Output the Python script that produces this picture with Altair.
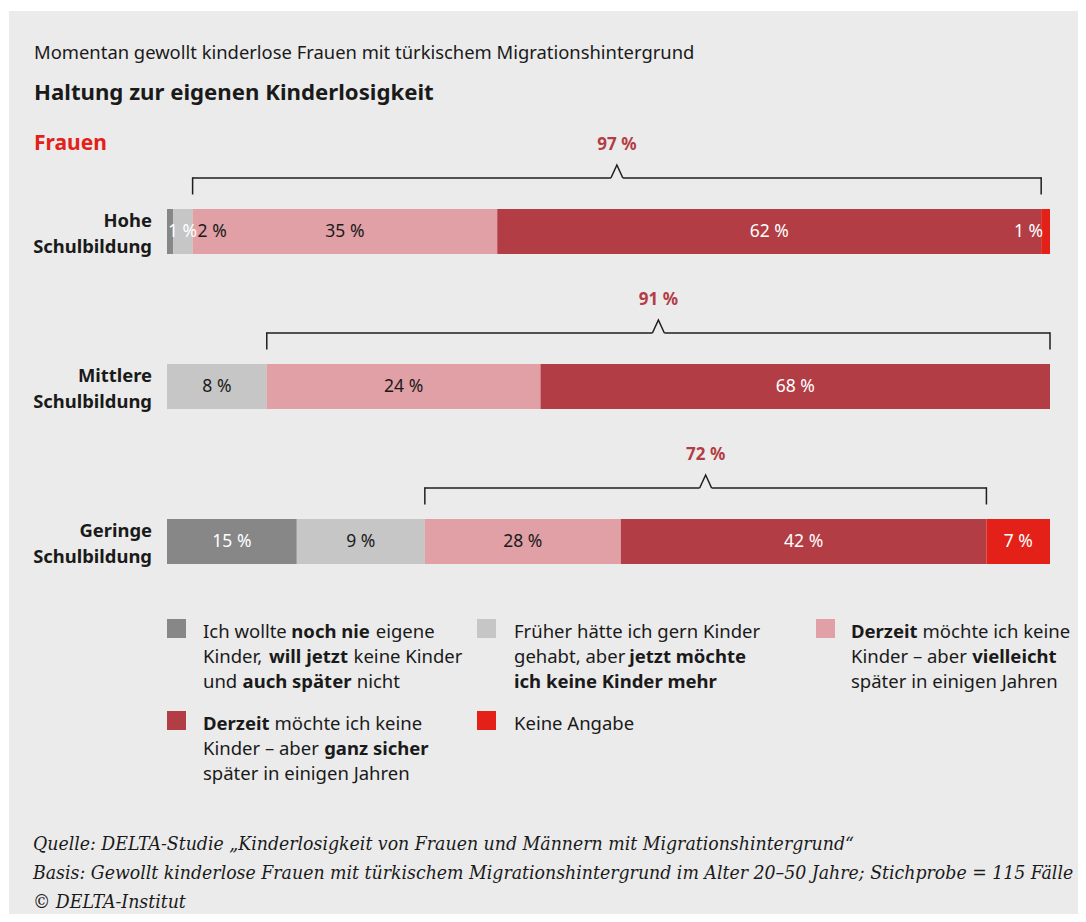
import altair as alt
import pandas as pd

# ---------------- data ----------------
rows = ["Hohe\nSchulbildung", "Mittlere\nSchulbildung", "Geringe\nSchulbildung"]
categories = ["noch nie", "früher", "derzeit vielleicht", "derzeit ganz sicher", "keine Angabe"]
colors = ["#878787", "#c6c6c6", "#e0a0a6", "#b33d45", "#e32119"]

# printed percentages (None = no segment)
hohe_pct = [1, 2, 35, 62, 1]
mittlere_pct = [None, 8, 24, 68, None]
geringe_pct = [15, 9, 28, 42, 7]

# segment lengths as drawn in the original (share of bar length, %)
hohe_drawn = [0.7, 2.2, 34.5, 61.6, 1.0]
mittlere_drawn = [0.0, 11.3, 31.0, 57.7, 0.0]
geringe_drawn = [14.7, 14.5, 22.2, 41.4, 7.2]

# totals over the brackets
brace_pct = [97, 91, 72]

header = "Momentan gewollt kinderlose Frauen mit türkischem Migrationshintergrund"
title = "Haltung zur eigenen Kinderlosigkeit"
group = "Frauen"
footer_lines = [
    "Quelle: DELTA-Studie \u201eKinderlosigkeit von Frauen und Männern mit Migrationshintergrund\u201c",
    "Basis: Gewollt kinderlose Frauen mit türkischem Migrationshintergrund im Alter 20\u201350 Jahre; Stichprobe = 115 Fälle",
    "\u00a9 DELTA-Institut",
]

# legend texts: (category index, column, row, lines of (text, bold))
legend_items = [
    (0, 0, 0, [[("Ich wollte", 0), ("noch nie", 1), ("eigene", 0)],
               [("Kinder,", 0), ("will jetzt", 1), ("keine Kinder", 0)],
               [("und", 0), ("auch später", 1), ("nicht", 0)]]),
    (1, 1, 0, [[("Früher hätte ich gern Kinder", 0)],
               [("gehabt, aber", 0), ("jetzt möchte", 1)],
               [("ich keine Kinder mehr", 1)]]),
    (2, 2, 0, [[("Derzeit", 1), ("möchte ich keine", 0)],
               [("Kinder \u2013 aber", 0), ("vielleicht", 1)],
               [("später in einigen Jahren", 0)]]),
    (3, 0, 1, [[("Derzeit", 1), ("möchte ich keine", 0)],
               [("Kinder \u2013 aber", 0), ("ganz sicher", 1)],
               [("später in einigen Jahren", 0)]]),
    (4, 1, 1, [[("Keine Angabe", 0)]]),
]

# ---------------- style ----------------
FONT = "Noto Sans"
SERIF = "DejaVu Serif Condensed"
BG = "#ebebeb"
INK = "#1a1a1a"
BRACE_INK = "#1e1e1e"
DARKRED = "#b33d45"
RED = "#e32119"
TEXT_ON = ["white", INK, INK, "white", "white"]
PLACE = {(0, 0): "start", (0, 1): "after", (0, 4): "end"}

W, H = 1069, 903
XS = alt.Scale(domain=[0, 100], range=[158, 1041], nice=False, zero=False)
YS = alt.Scale(domain=[0, 2], range=[220.5, 530.5], nice=False, zero=False)
CS = alt.Scale(domain=categories, range=colors)

# approximate advance widths (em/1000) for placing mixed-weight legend text
REG = {' ': 275, ',': 230, '\u2013': 500, 'a': 561, 'b': 620, 'c': 482, 'd': 620, 'e': 568,
       'f': 344, 'g': 556, 'h': 622, 'i': 258, 'j': 258, 'k': 532, 'l': 258, 'm': 940,
       'n': 622, 'o': 612, 'p': 620, 'r': 414, 's': 484, 't': 358, 'u': 622, 'v': 508,
       'w': 788, 'z': 484, 'ä': 561, 'ö': 612, 'ü': 622, 'A': 640, 'D': 725, 'F': 540,
       'I': 278, 'J': 260, 'K': 580}
BOLD = {' ': 275, 'a': 589, 'b': 635, 'c': 516, 'd': 635, 'e': 599, 'g': 557, 'h': 657,
        'i': 303, 'j': 303, 'k': 633, 'l': 303, 'm': 1000, 'n': 657, 'o': 624, 'p': 635,
        'r': 451, 's': 509, 't': 420, 'u': 657, 'v': 575, 'w': 876, 'z': 494, 'ä': 589,
        'ö': 624, 'ü': 657, 'D': 728, 'K': 640}


def text_w(s, bold, size):
    tbl = BOLD if bold else REG
    return sum(tbl.get(ch, 600 if bold else 550) for ch in s) / 1000.0 * size


# ---------------- tables ----------------
seg = []
for r, (pcts, drawn) in enumerate(zip([hohe_pct, mittlere_pct, geringe_pct],
                                      [hohe_drawn, mittlere_drawn, geringe_drawn])):
    cum = 0.0
    for c, (p, d) in enumerate(zip(pcts, drawn)):
        if p is None:
            cum += d
            continue
        seg.append(dict(row=r, cat=categories[c], start=cum, end=cum + d, mid=cum + d / 2,
                        label=f"{p} %", tc=TEXT_ON[c], place=PLACE.get((r, c), "mid")))
        cum += d
seg_df = pd.DataFrame(seg)

br, ticks = [], []
for r in range(3):
    rs = seg_df[seg_df.row == r]
    xl = float(rs[rs.cat == categories[2]].start.iloc[0])
    xr = float(rs[rs.cat == categories[3]].end.iloc[0])
    br.append(dict(row=r, xl=xl, xr=xr, xm=(xl + xr) / 2, label=f"{brace_pct[r]} %"))
    ticks += [dict(row=r, x=xl), dict(row=r, x=xr)]
br_df = pd.DataFrame(br)
tick_df = pd.DataFrame(ticks)
rowlab_df = pd.DataFrame(dict(row=[0, 1, 2], label=rows))

# ---------------- data layers ----------------
bars = alt.Chart(seg_df).mark_rect(yOffset=-22.5, y2Offset=22.5).encode(
    x=alt.X("start:Q", scale=XS, axis=None), x2="end:Q",
    y=alt.Y("row:Q", scale=YS, axis=None), y2="row:Q",
    color=alt.Color("cat:N", scale=CS, legend=None))


def seg_labels(place, align, dx, xfield):
    return alt.Chart(seg_df[seg_df.place == place]).mark_text(
        align=align, baseline="middle", dx=dx, font=FONT, fontSize=17.5).encode(
        x=alt.X(f"{xfield}:Q", scale=XS, axis=None),
        y=alt.Y("row:Q", scale=YS, axis=None),
        text="label:N", color=alt.Color("tc:N", scale=None))


lab_mid = seg_labels("mid", "center", 0, "mid")
lab_start = seg_labels("start", "left", 1, "start")
lab_after = seg_labels("after", "left", 5, "end")
lab_end = seg_labels("end", "right", -7, "end")

brace_base = alt.Chart(br_df)
br_left = brace_base.mark_rule(yOffset=-53.5, x2Offset=-6, color=BRACE_INK, strokeWidth=1.5).encode(
    x=alt.X("xl:Q", scale=XS, axis=None), x2="xm:Q", y=alt.Y("row:Q", scale=YS, axis=None))
br_right = brace_base.mark_rule(yOffset=-53.5, xOffset=6, color=BRACE_INK, strokeWidth=1.5).encode(
    x=alt.X("xm:Q", scale=XS, axis=None), x2="xr:Q", y=alt.Y("row:Q", scale=YS, axis=None))
br_ticks = alt.Chart(tick_df).mark_rule(yOffset=-54.2, y2Offset=-37, color=BRACE_INK,
                                        strokeWidth=1.5).encode(
    x=alt.X("x:Q", scale=XS, axis=None), y=alt.Y("row:Q", scale=YS, axis=None), y2="row:Q")
br_peak = brace_base.mark_point(shape="M -0.46 0 L 0 -1 L 0.46 0", size=676, filled=False,
                                color=BRACE_INK, strokeWidth=1.5, opacity=1,
                                yOffset=-53.5).encode(
    x=alt.X("xm:Q", scale=XS, axis=None), y=alt.Y("row:Q", scale=YS, axis=None))
br_label = brace_base.mark_text(yOffset=-86.5, baseline="middle", align="center", font=FONT,
                                fontSize=17, fontWeight="bold", color=DARKRED).encode(
    x=alt.X("xm:Q", scale=XS, axis=None), y=alt.Y("row:Q", scale=YS, axis=None), text="label:N")

row_labels = alt.Chart(rowlab_df).mark_text(
    align="right", baseline="middle", lineBreak="\n", lineHeight=26, dy=-11,
    font=FONT, fontSize=18.4, fontWeight="bold", color=INK).encode(
    x=alt.value(143), y=alt.Y("row:Q", scale=YS, axis=None), text="label:N")

# ---------------- annotation layers (pixel positions) ----------------
def px_text(df, **mk):
    return alt.Chart(df).mark_text(align="left", baseline="middle", **mk).encode(
        x=alt.X("x:Q", scale=None, axis=None), y=alt.Y("y:Q", scale=None, axis=None),
        text="t:N")


head = px_text(pd.DataFrame([dict(x=25, y=42, t=header)]), font=FONT, fontSize=18.4, color=INK)
ttl = px_text(pd.DataFrame([dict(x=25, y=82, t=title)]), font=FONT, fontSize=22.2,
              fontWeight="bold", color=INK)
frauen = px_text(pd.DataFrame([dict(x=25, y=133, t=group)]), font=FONT, fontSize=21,
                 fontWeight="bold", color=RED)

COL_SQ = [158, 468, 807]
COL_TX = [194, 505, 842]
ROW_TOP = [608, 700]
LEG_FS = 18.5
LEG_LH = 25
sq, reg_t, bold_t = [], [], []
for ci, col, rr, lines in legend_items:
    top = ROW_TOP[rr]
    sq.append(dict(x=COL_SQ[col], x2=COL_SQ[col] + 19, y=top, y2=top + 19, cat=categories[ci]))
    for li, parts in enumerate(lines):
        x = COL_TX[col]
        y = top + 13 + li * LEG_LH
        for t, b in parts:
            (bold_t if b else reg_t).append(dict(x=x, y=y, t=t))
            x += text_w(t, b, LEG_FS) + text_w(" ", 0, LEG_FS)
leg_sq = alt.Chart(pd.DataFrame(sq)).mark_rect().encode(
    x=alt.X("x:Q", scale=None, axis=None), x2="x2:Q",
    y=alt.Y("y:Q", scale=None, axis=None), y2="y2:Q",
    color=alt.Color("cat:N", scale=CS, legend=None))
leg_reg = px_text(pd.DataFrame(reg_t), font=FONT, fontSize=LEG_FS, color=INK)
leg_bold = px_text(pd.DataFrame(bold_t), font=FONT, fontSize=LEG_FS, fontWeight="bold", color=INK)

foot = px_text(pd.DataFrame([dict(x=24, y=833 + i * 29, t=s) for i, s in enumerate(footer_lines)]),
               font=SERIF, fontSize=19.3, fontStyle="italic", color=INK)

chart = alt.layer(
    bars, lab_mid, lab_start, lab_after, lab_end,
    br_left, br_right, br_ticks, br_peak, br_label, row_labels,
    head, ttl, frauen, leg_sq, leg_reg, leg_bold, foot,
).resolve_scale(
    x="independent", y="independent", color="independent"
).properties(
    width=W, height=H,
    padding={"left": 1, "top": 3, "right": 0, "bottom": 0},
    autosize=alt.AutoSizeParams(type="none"),
    background="white",
).configure_view(fill=BG, strokeWidth=0)

chart.save("out.html", embed_options={"renderer": "svg", "actions": False})
